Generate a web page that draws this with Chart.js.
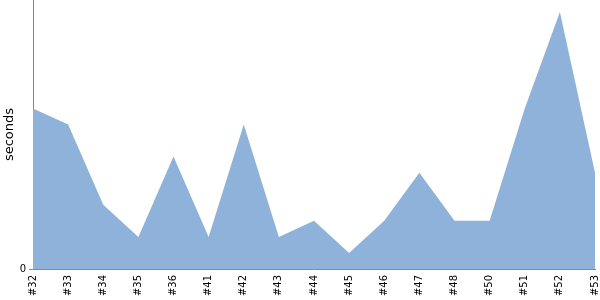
<!DOCTYPE html>
<html>
<head>
<meta charset="utf-8">
<script src="https://cdn.jsdelivr.net/npm/chart.js@4"></script>
<style>
  html, body { margin: 0; padding: 0; background: #fff; }
  #wrap { width: 600px; height: 300px; position: relative; }
</style>
</head>
<body>
<div id="wrap"><canvas id="c"></canvas></div>
<script>
const categories = ["#32","#33","#34","#35","#36","#41","#42","#43","#44","#45","#46","#47","#48","#50","#51","#52","#53"];
const seconds = [10, 9, 4, 2, 7, 2, 9, 2, 3, 1, 3, 6, 3, 3, 10, 16, 6];
const yTickValues = [0];
const yMax = 16.75;

Chart.defaults.font.family = "'DejaVu Sans', sans-serif";
Chart.defaults.color = "#000";

new Chart(document.getElementById('c'), {
  type: 'line',
  data: {
    labels: categories,
    datasets: [{
      data: seconds,
      fill: 'origin',
      backgroundColor: '#8fb2da',
      borderWidth: 0,
      borderColor: 'rgba(0,0,0,0)',
      pointRadius: 0,
      tension: 0
    }]
  },
  options: {
    responsive: true,
    maintainAspectRatio: false,
    animation: false,
    layout: { padding: { top: 0, right: 5, bottom: 0, left: 0 } },
    plugins: { legend: { display: false }, tooltip: { enabled: false } },
    scales: {
      x: {
        offset: false,
        grid: { display: true, drawOnChartArea: false, drawTicks: false, tickLength: 0 },
        border: { display: true, color: '#888', width: 1 },
        ticks: { minRotation: 90, maxRotation: 90, autoSkip: false, font: { size: 10 }, padding: 6 },
        afterFit: (s) => { s.height = 31; s.paddingLeft = 0; s.paddingRight = 0; }
      },
      y: {
        min: 0,
        max: yMax,
        afterBuildTicks: (s) => { s.ticks = yTickValues.map(v => ({ value: v })); },
        grid: { drawOnChartArea: false, drawTicks: true, tickLength: 4, color: '#888' },
        border: { display: true, color: '#888', width: 1 },
        ticks: { font: { size: 10 }, padding: 3 },
        title: { display: true, text: 'seconds', font: { size: 13 }, padding: { top: 2, bottom: 2 } },
        afterFit: (s) => { s.width = 33; s.paddingTop = 0; s.paddingBottom = 0; }
      }
    }
  }
});
</script>
</body>
</html>
